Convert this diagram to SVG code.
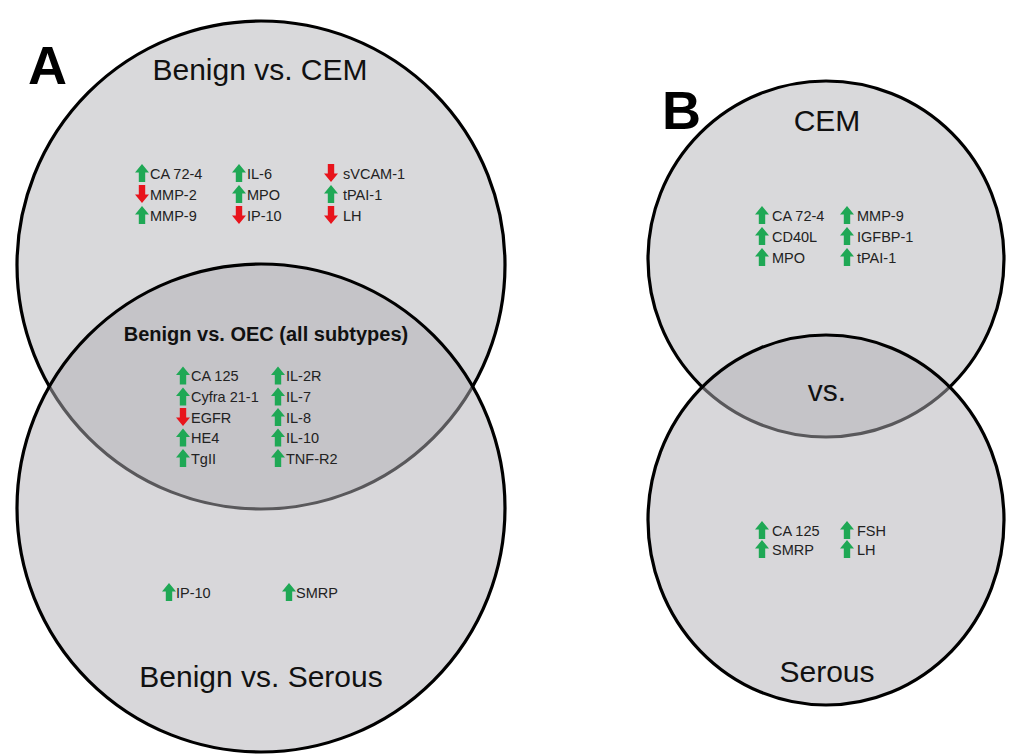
<svg xmlns="http://www.w3.org/2000/svg" xmlns:xlink="http://www.w3.org/1999/xlink" width="1010" height="756" viewBox="0 0 1010 756">
<style>
.c1{fill:#d9d9db;stroke:#000;stroke-width:3.2}
.c2{fill:rgb(178,176,182);fill-opacity:0.5;stroke:#000;stroke-width:3.2}
.t{font-family:"Liberation Sans",Arial,sans-serif;font-size:14.5px;fill:#222}
.h{font-family:"Liberation Sans",Arial,sans-serif;font-size:30px;fill:#111;text-anchor:middle}
.hb{font-family:"Liberation Sans",Arial,sans-serif;font-size:20px;font-weight:bold;fill:#111;text-anchor:middle}
.lab{font-family:"Liberation Sans",Arial,sans-serif;font-size:54px;font-weight:bold;fill:#000}
</style>
<defs>
<path id="up" d="M7 0 L14 8.5 L10.2 8.5 L10.2 18 L3.8 18 L3.8 8.5 L0 8.5 Z" fill="#1fa855"/>
<path id="dn" d="M7 18 L14 9.5 L10.2 9.5 L10.2 0 L3.8 0 L3.8 9.5 L0 9.5 Z" fill="#e8141c"/>
</defs>
<rect width="1010" height="756" fill="#fff"/>

<g id="panelA">
<g id="circleA-CEM"><circle class="c1" cx="261" cy="265" r="244"/></g>
<g id="circleA-Serous"><circle class="c2" cx="261" cy="508" r="244"/></g>
<text class="lab" x="28" y="84">A</text>
<g id="nodeA-CEM">
<text class="h" x="260" y="80">Benign vs. CEM</text>
<use href="#up" x="135" y="164"/><text class="t" x="150" y="178.5">CA 72-4</text>
<use href="#dn" x="135" y="185"/><text class="t" x="150" y="199.5">MMP-2</text>
<use href="#up" x="135" y="206"/><text class="t" x="150" y="220.5">MMP-9</text>
<use href="#up" x="232" y="164"/><text class="t" x="247" y="178.5">IL-6</text>
<use href="#up" x="232" y="185"/><text class="t" x="247" y="199.5">MPO</text>
<use href="#dn" x="232" y="206"/><text class="t" x="247" y="220.5">IP-10</text>
<use href="#dn" x="324" y="164"/><text class="t" x="343" y="178.5">sVCAM-1</text>
<use href="#up" x="324" y="185"/><text class="t" x="343" y="199.5">tPAI-1</text>
<use href="#dn" x="324" y="206"/><text class="t" x="343" y="220.5">LH</text>
</g>
<g id="nodeA-OEC">
<text class="hb" x="266" y="341">Benign vs. OEC (all subtypes)</text>
<use href="#up" x="176" y="366.5"/><text class="t" x="191" y="381">CA 125</text>
<use href="#up" x="176" y="387.5"/><text class="t" x="191" y="402">Cyfra 21-1</text>
<use href="#dn" x="176" y="408"/><text class="t" x="191" y="422.5">EGFR</text>
<use href="#up" x="176" y="428.5"/><text class="t" x="191" y="443">HE4</text>
<use href="#up" x="176" y="449"/><text class="t" x="191" y="463.5">TgII</text>
<use href="#up" x="271" y="366.5"/><text class="t" x="286" y="381">IL-2R</text>
<use href="#up" x="271" y="387.5"/><text class="t" x="286" y="402">IL-7</text>
<use href="#up" x="271" y="408"/><text class="t" x="286" y="422.5">IL-8</text>
<use href="#up" x="271" y="428.5"/><text class="t" x="286" y="443">IL-10</text>
<use href="#up" x="271" y="449"/><text class="t" x="286" y="463.5">TNF-R2</text>
</g>
<g id="nodeA-Serous">
<use href="#up" x="162" y="583"/><text class="t" x="176" y="597.5">IP-10</text>
<use href="#up" x="282" y="583"/><text class="t" x="296" y="597.5">SMRP</text>
<text class="h" x="261" y="687">Benign vs. Serous</text>
</g>
</g>

<g id="panelB">
<g id="circleB-CEM"><circle class="c1" cx="826" cy="259" r="178"/></g>
<g id="circleB-Serous"><ellipse class="c2" cx="826" cy="520" rx="178" ry="185"/></g>
<text class="lab" x="662" y="129">B</text>
<g id="nodeB-CEM">
<text class="h" x="827" y="131">CEM</text>
<use href="#up" x="755" y="206"/><text class="t" x="772" y="220.5">CA 72-4</text>
<use href="#up" x="755" y="227"/><text class="t" x="772" y="241.5">CD40L</text>
<use href="#up" x="755" y="248"/><text class="t" x="772" y="262.5">MPO</text>
<use href="#up" x="840" y="206"/><text class="t" x="857" y="220.5">MMP-9</text>
<use href="#up" x="840" y="227"/><text class="t" x="857" y="241.5">IGFBP-1</text>
<use href="#up" x="840" y="248"/><text class="t" x="857" y="262.5">tPAI-1</text>
</g>
<g id="nodeB-vs"><text class="h" x="827" y="401">vs.</text></g>
<g id="nodeB-Serous">
<use href="#up" x="755" y="521"/><text class="t" x="772" y="535.5">CA 125</text>
<use href="#up" x="755" y="540"/><text class="t" x="772" y="554.5">SMRP</text>
<use href="#up" x="840" y="521"/><text class="t" x="857" y="535.5">FSH</text>
<use href="#up" x="840" y="540"/><text class="t" x="857" y="554.5">LH</text>
<text class="h" x="827" y="682">Serous</text>
</g>
</g>
<g id="connectors"/>
</svg>
